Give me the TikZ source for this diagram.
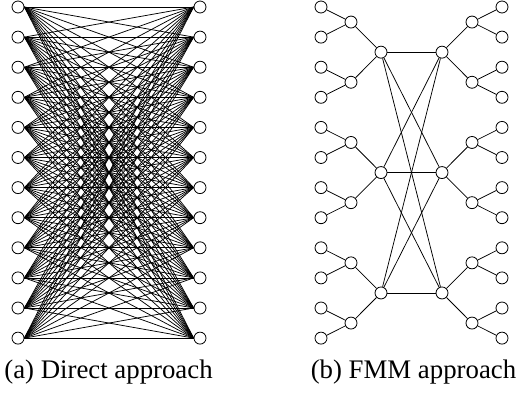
\documentclass[tikz,border=0pt]{standalone}
\usepackage{fontspec}
\setmainfont{Liberation Serif}
\begin{document}
\begin{tikzpicture}[x=1pt,y=-1pt,
  vtx/.style={circle,draw,fill=white,inner sep=0pt,minimum size=12pt,line width=0.8pt},
  link/.style={line width=0.75pt},
  captext/.style={anchor=base,inner sep=0pt,font=\fontsize{26.8}{30}\selectfont}]
\useasboundingbox (0,0) rectangle (517,392);
% (a) direct approach: every source talks to every target
\foreach \i in {0,...,11} {
  \node[vtx] (a\i) at (18, {7+30.1*\i}) {};
  \node[vtx] (b\i) at (200, {7+30.1*\i}) {};
}
\foreach \i in {0,...,11} {
  \foreach \j in {0,...,11} {
    \draw[link] (a\i.east) -- (b\j.west);
  }
}
% (b) FMM approach: leaves, first-level and second-level boxes on each side
\foreach \i in {0,...,11} {
  \node[vtx] (ll\i) at (321, {7+30.1*\i}) {};
  \node[vtx] (rl\i) at (502, {7+30.1*\i}) {};
}
\foreach \k in {0,...,5} {
  \node[vtx] (lm\k) at (351, {7+30.1*(2*\k+0.5)}) {};
  \node[vtx] (rm\k) at (472, {7+30.1*(2*\k+0.5)}) {};
}
\foreach \m in {0,1,2} {
  \node[vtx] (lt\m) at (381, {7+30.1*(4*\m+1.5)}) {};
  \node[vtx] (rt\m) at (442, {7+30.1*(4*\m+1.5)}) {};
}
\foreach \k [evaluate=\k as \a using int(2*\k), evaluate=\k as \b using int(2*\k+1)] in {0,...,5} {
  \draw[link] (lm\k) -- (ll\a);
  \draw[link] (lm\k) -- (ll\b);
  \draw[link] (rm\k) -- (rl\a);
  \draw[link] (rm\k) -- (rl\b);
}
\foreach \m [evaluate=\m as \a using int(2*\m), evaluate=\m as \b using int(2*\m+1)] in {0,1,2} {
  \draw[link] (lt\m) -- (lm\a);
  \draw[link] (lt\m) -- (lm\b);
  \draw[link] (rt\m) -- (rm\a);
  \draw[link] (rt\m) -- (rm\b);
}
\foreach \m in {0,1,2} {
  \foreach \n in {0,1,2} {
    \draw[link] (lt\m) -- (rt\n);
  }
}
% captions
\node[captext] (capa) at (108.5,378) {(a) Direct approach};
\node[captext] (capb) at (413.5,378) {(b) FMM approach};
\end{tikzpicture}
\end{document}
